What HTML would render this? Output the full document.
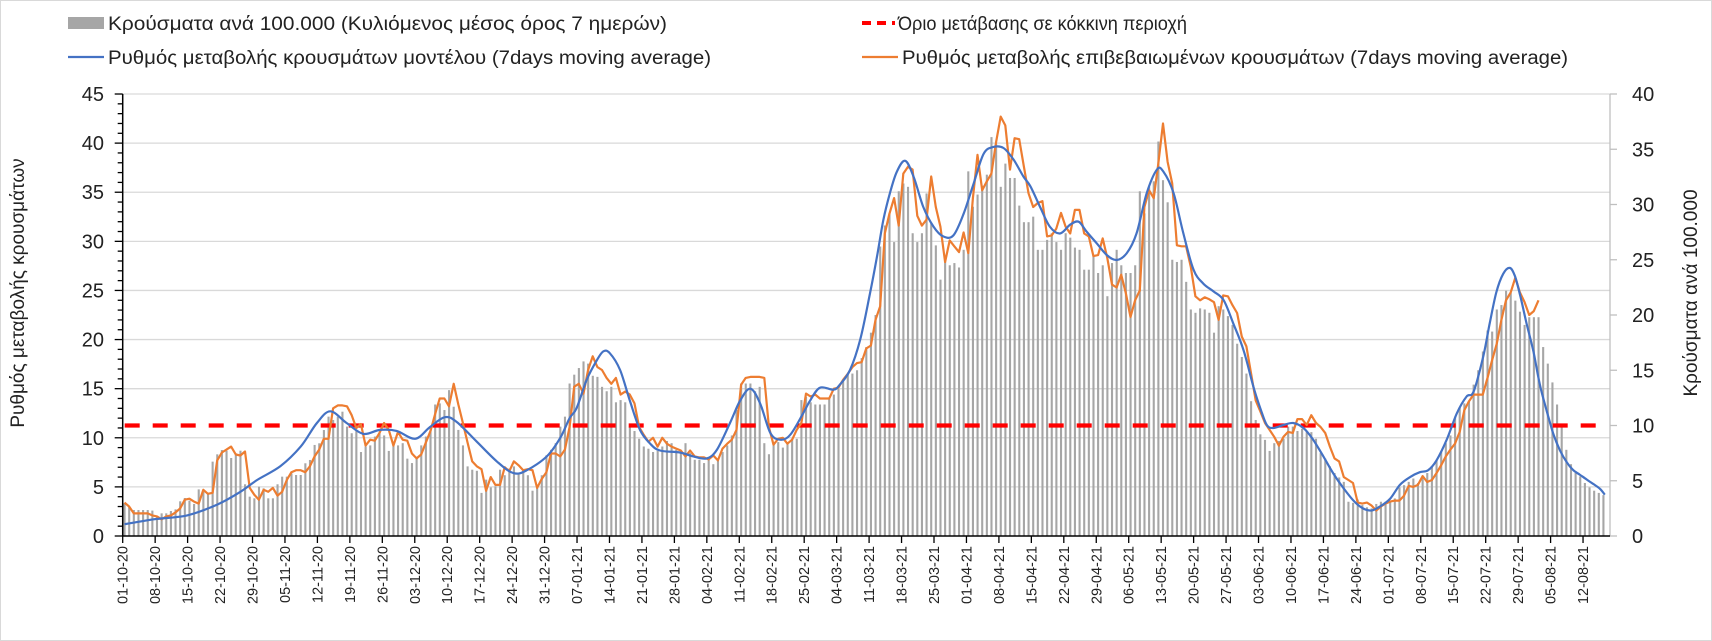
<!DOCTYPE html>
<html><head><meta charset="utf-8"><style>
html,body{margin:0;padding:0;background:#fff;}
svg{display:block;font-family:"Liberation Sans","DejaVu Sans",sans-serif;}
</style></head><body>
<svg id="chart" width="1712" height="641" viewBox="0 0 1712 641" xmlns="http://www.w3.org/2000/svg">
<rect x="0.5" y="0.5" width="1711" height="640" fill="#fff" stroke="#d9d9d9"/>
<g id="grid"></g>
<g id="bars"></g>
<g id="lines"></g>
<g id="axes"></g>
<g font-size="19" fill="#222">
  <rect x="68" y="17" width="36" height="12" fill="#a6a6a6"/>
  <text x="108" y="30" textLength="559" lengthAdjust="spacingAndGlyphs">Κρούσματα ανά 100.000 (Κυλιόμενος μέσος όρος 7 ημερών)</text>
  <line x1="862" y1="23" x2="895" y2="23" stroke="#ff0000" stroke-width="4" stroke-dasharray="9,6"/>
  <text x="898" y="30" textLength="289" lengthAdjust="spacingAndGlyphs">Όριο μετάβασης σε κόκκινη περιοχή</text>
  <line x1="68" y1="57" x2="104" y2="57" stroke="#4472c4" stroke-width="2.2"/>
  <text x="108" y="64" textLength="603" lengthAdjust="spacingAndGlyphs">Ρυθμός μεταβολής κρουσμάτων μοντέλου (7days moving average)</text>
  <line x1="862" y1="57" x2="898" y2="57" stroke="#ed7d31" stroke-width="2.2"/>
  <text x="902" y="64" textLength="666" lengthAdjust="spacingAndGlyphs">Ρυθμός μεταβολής επιβεβαιωμένων κρουσμάτων (7days moving average)</text>
</g>
<text transform="translate(24,293) rotate(-90)" text-anchor="middle" font-size="19" fill="#222">Ρυθμός μεταβολής κρουσμάτων</text>
<text transform="translate(1697,293) rotate(-90)" text-anchor="middle" font-size="19" fill="#222">Κρούσματα ανά 100.000</text>
</svg>
<script>
const dateLabels = ["01-10-20","08-10-20","15-10-20","22-10-20","29-10-20","05-11-20","12-11-20","19-11-20","26-11-20","03-12-20","10-12-20","17-12-20","24-12-20","31-12-20","07-01-21","14-01-21","21-01-21","28-01-21","04-02-21","11-02-21","18-02-21","25-02-21","04-03-21","11-03-21","18-03-21","25-03-21","01-04-21","08-04-21","15-04-21","22-04-21","29-04-21","06-05-21","13-05-21","20-05-21","27-05-21","03-06-21","10-06-21","17-06-21","24-06-21","01-07-21","08-07-21","15-07-21","22-07-21","29-07-21","05-08-21","12-08-21"];
const leftTicks = [0,5,10,15,20,25,30,35,40,45];
const rightTicks = [0,5,10,15,20,25,30,35,40];
const thresholdRight = 10;
const casesPer100k = [
2.96,2.65,2.35,2.35,2.35,2.35,2.3,1.75,2.05,2.05,2.26,2.41,3.14,3.44,3.2,2.9,4.22,3.98,3.86,6.73,7.39,7.78,7.72,7.06,7.48,7.72,4.68,3.56,3.41,4.46,4.31,3.41,3.41,4.68,5.37,5.37,5.67,5.52,5.52,6.58,6.88,8.24,8.39,9.59,10.8,10.5,
10.8,11.25,9.9,9.3,9.6,7.6,8.1,8.2,9.0,9.3,9.1,7.7,8.4,8.2,8.4,7.0,6.6,7.0,8.2,9.0,9.9,11.9,12.0,11.4,13.2,11.7,9.6,8.2,6.3,6.0,5.9,3.9,5.1,4.4,4.5,6.0,5.5,6.1,6.3,5.7,6.0,5.5,4.1,4.5,5.5,7.3,7.8,8.4,9.9,10.8,13.8,
14.6,15.2,15.8,15.6,14.5,14.4,13.5,13.1,13.5,12.1,12.3,12.1,9.9,9.5,8.8,8.1,7.9,7.6,7.7,8.1,8.6,8.4,7.8,7.5,8.4,7.5,6.9,6.9,6.6,6.9,6.5,7.0,7.6,8.2,9.1,11.4,13.8,13.8,13.8,13.1,13.5,8.4,7.4,8.4,8.5,8.0,8.4,8.8,
8.8,12.3,12.6,12.1,11.9,11.9,11.9,12.4,12.8,13.3,14.0,14.6,14.7,15.0,16.1,17.1,18.4,20.0,26.2,28.1,29.2,26.6,31.2,31.9,31.6,27.4,26.6,27.4,31.0,28.3,26.3,23.2,24.9,24.5,24.7,24.3,25.9,33.0,29.8,30.9,31.7,32.7,36.1,35.5,31.6,33.7,32.4,32.4,29.9,28.4,
28.4,28.9,25.9,25.9,26.8,27.4,26.6,25.9,27.4,27.0,26.1,25.9,24.1,24.1,25.3,23.8,24.5,21.7,24.7,25.9,24.5,23.8,23.8,24.5,31.2,29.2,31.6,32.1,35.7,32.2,30.2,25.0,24.8,25.0,23.0,20.5,20.2,20.6,20.5,20.2,18.4,20.8,20.5,19.9,19.1,17.4,16.2,14.7,12.2,10.5,
9.2,8.7,7.7,8.4,8.6,8.8,9.9,9.9,9.5,9.7,9.4,9.4,8.8,7.5,7.0,6.3,5.7,5.3,4.9,3.1,3.0,3.3,2.8,2.6,2.5,2.9,3.1,3.1,3.2,3.4,4.4,4.6,4.9,5.2,4.8,5.4,5.7,6.3,6.9,7.6,8.4,9.1,10.8,11.6,12.0,12.2,13.7,15.0,16.7,18.6,18.5,20.5,
20.9,22.2,22.0,21.3,20.3,19.1,19.8,19.8,19.8,17.1,15.6,13.9,11.9,10.0,7.8,6.5,5.7,5.4,4.8,4.4,4.1,3.9,3.7];
const confirmedRate = [
3.4,3.0,2.3,2.3,2.3,2.3,2.1,2.0,1.7,2.0,2.1,2.4,2.8,3.7,3.8,3.5,3.3,4.7,4.3,4.4,7.7,8.5,8.8,9.1,8.3,8.2,8.6,4.9,4.2,3.7,4.7,4.5,4.9,4.1,4.5,5.7,6.5,6.7,6.7,6.5,7.1,8.1,8.8,9.9,9.9,13.0,13.3,
13.3,13.2,12.3,11.0,11.4,9.2,9.8,9.7,10.5,11.5,10.8,9.2,10.6,9.8,9.7,8.4,7.9,8.3,9.5,10.7,12.4,14.0,14.0,13.2,15.5,13.4,11.5,9.5,7.6,7.1,6.8,4.6,6.0,5.2,5.2,7.0,6.6,7.6,7.2,6.7,6.8,6.7,4.9,5.8,6.5,8.4,8.4,8.1,8.8,11.1,
15.2,15.5,14.5,16.9,18.3,17.2,16.9,16.1,15.5,16.1,14.4,14.7,14.4,13.5,11.1,10.3,9.6,10.0,9.1,10.0,9.4,9.1,8.9,8.7,8.1,8.7,8.1,8.0,8.0,7.8,8.2,7.7,8.9,9.4,9.8,10.8,15.4,16.1,16.2,16.2,16.2,16.1,11.1,9.3,9.9,10.0,9.4,9.8,10.8,
11.5,14.5,14.2,14.4,14.0,14.0,14.0,15.0,15.1,15.9,16.5,17.2,17.6,17.7,19.1,19.4,22.0,23.4,30.8,32.8,34.4,31.6,36.9,37.6,37.3,32.6,31.6,32.2,36.6,33.5,31.5,27.9,30.1,29.5,28.9,30.9,28.8,34.4,38.8,35.2,36.1,36.9,40.1,42.7,41.8,37.3,40.5,40.4,37.6,34.9,
33.5,33.9,34.1,30.5,30.6,31.3,32.9,31.5,30.8,33.2,33.2,30.8,30.5,28.5,28.6,30.3,28.3,25.6,25.3,26.6,24.7,22.3,24.0,25.0,33.5,35.2,34.4,37.9,42.0,38.1,35.9,29.6,29.5,29.5,27.4,24.4,24.0,24.3,24.1,23.8,22.0,24.5,24.4,23.5,22.7,20.3,19.3,16.6,13.8,12.7,
11.5,10.8,10.1,9.2,10.1,10.6,10.5,11.9,11.9,11.3,12.3,11.5,11.1,10.5,9.1,7.9,7.6,6.0,5.7,5.4,3.4,3.3,3.4,3.1,2.6,3.0,3.3,3.5,3.6,3.6,4.1,5.1,5.0,5.2,6.1,5.5,5.7,6.4,7.2,8.1,8.8,9.4,10.6,12.8,13.7,14.4,14.4,14.4,16.1,17.9,19.6,22.0,
24.0,24.8,26.3,24.8,23.8,22.5,22.9,24.0];
const modelDays = [0,6.3,13.5,20,25,28.6,33.6,38,41.5,44.4,47.9,51.5,55.1,58.7,62.7,65.9,69.1,71.7,76,80.3,83.9,86.8,91.1,94,96,97.5,99.7,101.9,103.3,104.7,106.9,109,111.2,113.4,115.5,119.8,122.7,125.6,127.8,130.6,132.8,135,137.1,139.3,141.4,143.6,146.4,147.9,150,152.9,154.3,156.5,158.7,160.8,162.3,163.7,165.1,166.6,168.4,170.2,172.3,174.5,176.6,178.8,181,183.1,185.3,187.4,189.6,191.8,193.9,195.4,197.5,199.6,201.8,204,205.8,207.5,209.7,211.9,214,216.2,218.3,220.5,222.7,224.1,226.3,228.4,230.6,232.7,234.9,237.1,239.2,241.4,243.5,245,246.4,247.8,250,252.1,254.3,256.4,258.6,260.7,262.9,265.1,267.2,269,270.8,273,275.1,277.3,279.4,281.2,283,285.2,287.4,289.5,291,293.1,294.5,295.9,297.4,298.8,299.9,301,302.4,303.9,305.3,306.8,308.2,309.6,311.1,312.5,313.9,315.4,316.8,318.3,319.3];
const modelRate = [1.2,1.7,2.1,3.2,4.5,5.7,7.1,9.1,11.5,12.7,11.5,10.4,10.8,10.7,9.9,11.1,12.1,11.6,9.6,7.6,6.4,6.7,8.1,10.0,12.0,13.0,15.9,17.9,18.8,18.6,16.9,13.8,10.8,9.4,8.7,8.5,8.1,7.9,8.8,11.5,13.8,15.0,13.5,10.5,9.8,10.3,12.5,13.8,15.1,14.9,15.4,16.9,20.0,24.7,28.4,32.2,34.9,37.1,38.2,36.6,33.5,31.5,30.5,30.6,32.8,35.8,38.9,39.6,39.5,38.3,36.6,35.6,33.5,31.5,30.8,31.7,32.0,31.0,29.8,28.6,28.1,28.8,30.8,34.9,37.3,37.1,34.9,30.8,27.1,25.7,24.9,24.0,21.6,18.9,15.2,13.0,11.3,11.0,11.3,11.5,11.0,9.8,8.1,6.4,4.9,3.6,2.8,2.6,3.0,3.8,5.2,6.0,6.5,6.7,7.7,9.8,12.5,14.2,14.7,18.3,21.7,24.8,26.7,27.3,26.5,24.6,21.7,18.8,15.4,12.7,10.4,8.75,7.5,6.7,6.25,5.75,5.3,4.8,4.2];

const NS = "http://www.w3.org/2000/svg";
const X0 = 124.5, DX = 4.636, LEFT = 122.7, RIGHT = 1610, Y0 = 536;
function xDay(d){ return X0 + DX*d; }
function yL(v){ return Y0 - v*9.822; }
function yR(v){ return Y0 - v*11.05; }
function mk(tag, attrs, parent){ const e=document.createElementNS(NS,tag); for(const k in attrs) e.setAttribute(k,attrs[k]); parent.appendChild(e); return e; }
const grid=document.getElementById('grid'), barsG=document.getElementById('bars'), linesG=document.getElementById('lines'), axes=document.getElementById('axes');

leftTicks.forEach(v=>{
  if(v>0){ const g=mk('line',{x1:LEFT,x2:RIGHT,y1:yL(v),y2:yL(v),stroke:'#d9d9d9','stroke-width':1.3},grid);
  
   }
  const t=mk('text',{x:104,y:yL(v)+7,'text-anchor':'end','font-size':20,fill:'#222'},axes);
  t.textContent=v;
  
  
});
for(let v=0; v<=45; v++){
  const len = v%5===0 ? 8 : 5;
  const tk=mk('line',{x1:LEFT-len,x2:LEFT,y1:yL(v),y2:yL(v),stroke:'#000','stroke-width':1.3},axes);
  
  
}
rightTicks.forEach(v=>{
  const tk=mk('line',{x1:RIGHT,x2:RIGHT+7,y1:yR(v),y2:yR(v),stroke:'#bfbfbf','stroke-width':1.3},axes);
  
  
  const t=mk('text',{x:1632,y:yR(v)+7,'font-size':20,fill:'#222'},axes);
  t.textContent=v;
  
  
});

casesPer100k.forEach((v,i)=>{
  const b=mk('rect',{x:xDay(i)-1,y:yR(v),width:2.1,height:Y0-yR(v),fill:'#a6a6a6'},barsG);
  
  
});

const thr=mk('line',{x1:LEFT+2,x2:RIGHT-8,y1:yR(thresholdRight),y2:yR(thresholdRight),stroke:'#ff0000','stroke-width':4.2,'stroke-dasharray':'15,13'},linesG);



let od='';
confirmedRate.forEach((v,i)=>{ od += (i?'L':'M') + xDay(i).toFixed(1)+','+yL(v).toFixed(1); });
const ol=mk('path',{d:od,fill:'none',stroke:'#ed7d31','stroke-width':2.2,'stroke-linejoin':'round'},linesG);



const pts = modelDays.map((d,i)=>[xDay(d), yL(modelRate[i])]);
let bd='M'+pts[0][0].toFixed(1)+','+pts[0][1].toFixed(1);
for(let i=0;i<pts.length-1;i++){
  const p0=pts[Math.max(0,i-1)], p1=pts[i], p2=pts[i+1], p3=pts[Math.min(pts.length-1,i+2)];
  const c1=[p1[0]+(p2[0]-p0[0])/6, p1[1]+(p2[1]-p0[1])/6];
  const c2=[p2[0]-(p3[0]-p1[0])/6, p2[1]-(p3[1]-p1[1])/6];
  bd+='C'+c1[0].toFixed(1)+','+c1[1].toFixed(1)+' '+c2[0].toFixed(1)+','+c2[1].toFixed(1)+' '+p2[0].toFixed(1)+','+p2[1].toFixed(1);
}
const bl=mk('path',{d:bd,fill:'none',stroke:'#4472c4','stroke-width':2.2},linesG);



const la=mk('line',{x1:LEFT,x2:LEFT,y1:yL(45),y2:Y0,stroke:'#000','stroke-width':1.5},axes);


const ra=mk('line',{x1:RIGHT,x2:RIGHT,y1:yR(40),y2:Y0,stroke:'#bfbfbf','stroke-width':1.3},axes);


const xa=mk('line',{x1:LEFT,x2:RIGHT,y1:Y0,y2:Y0,stroke:'#000','stroke-width':1.5},axes);



dateLabels.forEach((lab,k)=>{
  const x = xDay(7*k)-1.8;
  const tk=mk('line',{x1:x,x2:x,y1:Y0,y2:Y0+7,stroke:'#000','stroke-width':1.3},axes);
  
  
  const t=mk('text',{transform:'translate('+(x+5)+','+(Y0+10)+') rotate(-90)','text-anchor':'end','font-size':14.5,fill:'#222'},axes);
  t.textContent=lab;
  
  
});
</script>
</body></html>
